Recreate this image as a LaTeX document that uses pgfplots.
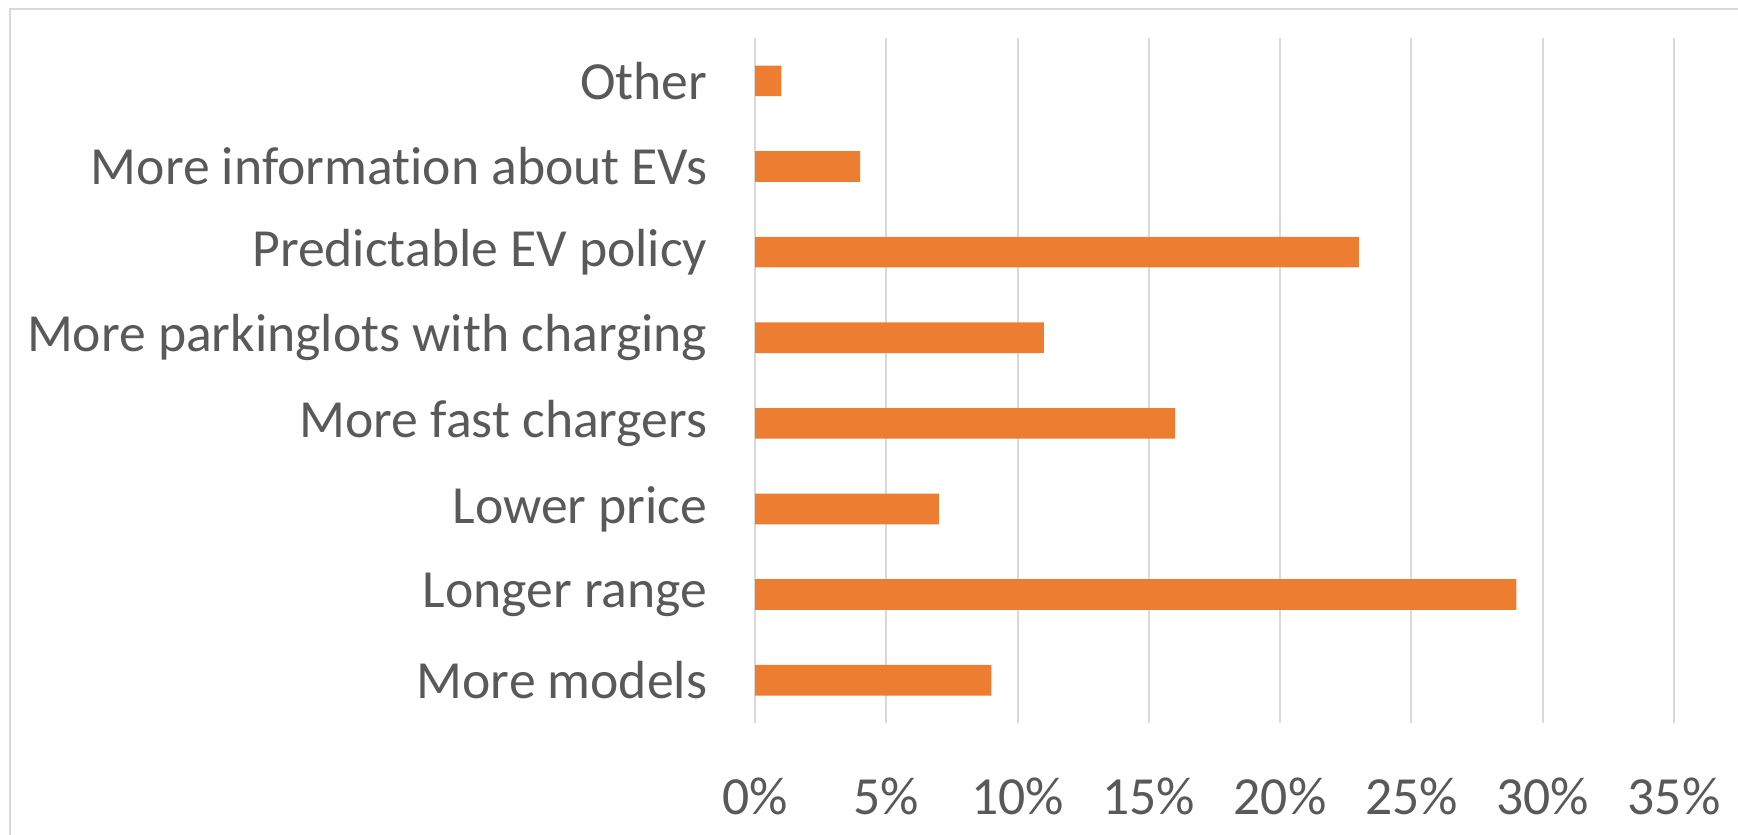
\documentclass[border=0pt]{standalone}
\usepackage{pgfplots}
\pgfplotsset{compat=1.18}
\usepackage{fontspec}
\setmainfont{Carlito}[Ligatures=NoCommon]
\definecolor{barc}{HTML}{ED7D31}
\definecolor{gridc}{HTML}{D9D9D9}
\definecolor{txtc}{HTML}{595959}
\begin{document}
\begin{tikzpicture}
\useasboundingbox (0,0) rectangle (521.4pt,250.2pt);
\clip (0,0) rectangle (521.4pt,250.2pt);
\draw[gridc, line width=0.7pt] (3pt,247.5pt) rectangle (540pt,-20pt);
\begin{axis}[
  at={(226.5pt,33.3pt)}, anchor=south west,
  scale only axis, width=275.7pt, height=205.5pt,
  xbar, bar width=9.2pt,
  xmin=0, xmax=35, ymin=-0.5, ymax=7.5,
  xtick={0,5,...,35},
  xticklabels={0\%,5\%,10\%,15\%,20\%,25\%,30\%,35\%},
  ytick={0,...,7},
  yticklabels={More models,Longer range,Lower price,More fast chargers,More parkinglots with charging,Predictable EV policy,More information about EVs,Other},
  axis line style={draw=none},
  major tick length=0pt,
  xmajorgrids,
  major grid style={gridc, line width=0.6pt},
  tick label style={font=\fontsize{16.1}{19}\selectfont, text=txtc},
  yticklabel style={xshift=-10.8pt},
  xticklabel style={yshift=-13pt},
]
\addplot[fill=barc, draw=none] coordinates {(9,0) (29,1) (7,2) (16,3) (11,4) (23,5) (4,6) (1,7)};
\end{axis}
\end{tikzpicture}
\end{document}
